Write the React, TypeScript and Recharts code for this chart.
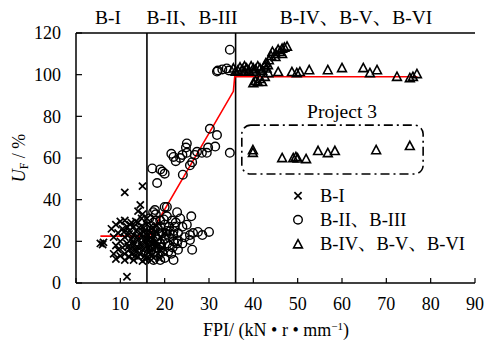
import React from "react";
import {
  ScatterChart,
  Scatter,
  XAxis,
  YAxis,
  ReferenceLine,
  ReferenceArea,
} from "recharts";

const FONT = "'Times New Roman', 'Liberation Serif', 'Noto Serif CJK SC', 'Noto Sans CJK SC', serif";

const xTicks = [0, 10, 20, 30, 40, 50, 60, 70, 80, 90];
const yTicks = [0, 20, 40, 60, 80, 100, 120];
const regionLabels = ["B-I", "B-II、B-III", "B-IV、B-V、B-VI"];
const seriesNames = ["B-I", "B-II、B-III", "B-IV、B-V、B-VI"];
const boundaries = [16, 36];

// B-I (crosses)
const groupI: [number, number][] = [
  [5.5, 19], [6, 18.5], [6.2, 19.5],
  [11, 43.5], [15, 46.5], [14.5, 37.5], [14, 34.5], [15, 33], [11.5, 3],
  [8, 26], [8.5, 22], [8.5, 14], [9, 28], [9, 18], [9, 11.5], [9.5, 24], [9.5, 16],
  [10, 29.5], [10, 20], [10, 13], [10.5, 26], [10.5, 17], [11, 30], [11, 22], [11, 14],
  [11, 11], [11.5, 27], [11.5, 19], [12, 25], [12, 16], [12, 12.5], [12.5, 29], [12.5, 21],
  [12.5, 14], [13, 27], [13, 23], [13, 18], [13, 11], [13.5, 25], [13.5, 15], [14, 29],
  [14, 21], [14, 17], [14, 12.5], [14.5, 24], [14.5, 19], [14.5, 14], [15, 27], [15, 22],
  [15, 16], [15, 10.5], [15.5, 25], [15.5, 20], [15.5, 13], [16, 28], [16, 23], [16, 18],
  [16, 12], [16.5, 21], [16.5, 15], [17, 26], [17, 19], [17, 13], [17.5, 23], [17.5, 16],
  [18, 20], [18, 25], [18.5, 14], [18.5, 18], [19, 22], [19.5, 17], [20, 24],
  [12, 23.5], [12.8, 19.5], [13.2, 16.5], [13.8, 22.5], [14.2, 26.5], [14.8, 17.5],
  [15.2, 24.5], [15.8, 21.5], [16.2, 16.5], [16.8, 24], [17.2, 21], [17.8, 18],
  [13.5, 29.5], [14.8, 31], [16, 31], [11.8, 17.5], [12.2, 28], [10.8, 24.5],
  [13.3, 13], [15.6, 11.5], [17, 11], [18.8, 12], [19.2, 15.5], [18.2, 27.5],
];

// B-II, B-III (circles)
const groupII: [number, number][] = [
  [34.7, 112], [32, 102], [33, 102.5], [34, 103], [34.5, 102], [31.8, 101.5],
  [17.2, 55], [19, 54.5], [19.5, 53.5], [20, 52.5], [18.3, 48], [21.5, 62], [22, 60.5],
  [22.5, 58.5], [23.5, 60], [24, 61.5], [24.1, 52], [24.8, 65], [25, 67], [25, 62.5],
  [25.7, 56.5], [26.2, 58], [26.8, 61.5], [27.3, 63], [28.4, 62.5], [29.5, 62.5],
  [29.8, 65], [30.2, 74], [31.4, 65.5], [31.8, 71], [34.7, 62.5],
  [17.4, 34], [17.8, 35], [20, 36.5], [20.5, 36.5], [22.8, 34], [21.7, 30], [26.4, 24],
  [27.5, 24.5], [25.7, 23], [26.2, 16], [21.9, 23], [23, 20.5], [20.8, 15], [25.7, 20.6],
  [16, 27], [16.5, 31], [16.5, 20], [17, 24], [17, 16], [17.5, 29], [17.5, 11], [18, 22],
  [18, 33], [18.5, 26], [18.5, 13], [19, 30], [19, 19], [19.5, 24], [19.5, 15], [20, 28],
  [20, 21], [20, 12], [20.5, 32], [20.5, 25], [21, 18], [21, 27], [21.5, 14], [22, 25],
  [22, 20], [22.5, 29], [23, 24], [23, 16], [24, 27], [24, 19], [24.5, 22], [25, 28],
  [23.5, 31], [26, 32], [17, 20], [18, 17], [19, 27], [21, 22], [22, 11], [22.3, 27],
  [22.8, 19], [28.5, 23], [30, 24.5],
  [16.8, 18], [17.6, 26], [18.4, 21], [19.2, 17], [19.8, 30.5], [20.6, 19], [21.2, 25],
  [16.4, 14], [18, 30], [21.8, 17], [19, 11], [20.4, 23.5],
];

// B-IV, B-V, B-VI (triangles)
const groupIV: [number, number][] = [
  [35.5, 103], [36.5, 102], [37, 103.5], [37.5, 102.5], [38, 104], [38.5, 103], [39, 102],
  [39.5, 104], [40, 103], [40.5, 102.5], [41, 104], [41.5, 103], [42, 102], [42.5, 104],
  [43, 103], [38, 101.5], [40, 101.5], [36, 101.5], [43.3, 104.6],
  [42.8, 105.5], [43.5, 107], [44, 109], [44.3, 111], [45, 110], [45.6, 112], [46, 111],
  [46.5, 112.5], [47, 113], [47.6, 113.5], [45, 108.5], [46.5, 110],
  [40, 96], [40.5, 97], [41, 96.5], [41.5, 98], [42, 96.5], [42.6, 99], [43.4, 100.8],
  [45.6, 101.3], [48.7, 101.3], [49.8, 100.8], [50.5, 101.3], [52.6, 102.2], [56.8, 102.2],
  [60, 103.2], [64.8, 103.2], [66.3, 100.8], [67.9, 102.2], [72.4, 99], [75.3, 98.4],
  [76, 99], [76.9, 100.3],
  // Project 3
  [39.9, 63.8], [39.9, 62.5], [46.5, 60], [49, 60], [49.6, 60.5], [50, 59.8], [51.9, 59.5],
  [54.6, 63.4], [56.8, 62.4], [58.4, 63.4], [67.7, 63.8], [75.3, 65.8],
];

// fitted red line
const fitX = [5.5, 16.5, 35.5, 35.8, 77];
const fitY = [22.5, 22.5, 92, 99, 99];

// Project 3 box
const boxX = [37.4, 78.3];
const boxY = [52.3, 75.8];

const toPts = (a: [number, number][]) => a.map(([x, y]) => ({ x, y }));
const fitData = fitX.map((x, i) => ({ x, y: fitY[i] }));

const CrossShape = (p: any) => {
  const { cx, cy } = p;
  const s = 3.6;
  return (
    <path
      d={`M${cx - s},${cy - s}L${cx + s},${cy + s}M${cx - s},${cy + s}L${cx + s},${cy - s}`}
      stroke="#000"
      strokeWidth={1.7}
      fill="none"
    />
  );
};
const CircleShape = (p: any) => (
  <circle cx={p.cx} cy={p.cy} r={4.3} fill="none" stroke="#000" strokeWidth={1.4} />
);
const TriShape = (p: any) => {
  const { cx, cy } = p;
  return (
    <path
      d={`M${cx},${cy - 4.6}L${cx + 4.4},${cy + 3.6}L${cx - 4.4},${cy + 3.6}Z`}
      fill="none"
      stroke="#000"
      strokeWidth={1.6}
    />
  );
};
const NoShape = () => <g />;

const BoxShape = (p: any) => {
  const { x, y, width, height } = p;
  return (
    <rect
      x={x}
      y={y}
      width={width}
      height={height}
      rx={9}
      ry={9}
      fill="none"
      stroke="#000"
      strokeWidth={1.6}
      strokeDasharray="9 4 2 4"
    />
  );
};

const abs = (left: number, top: number, extra: React.CSSProperties = {}): React.CSSProperties => ({
  position: "absolute",
  left,
  top,
  transform: "translate(-50%, -50%)",
  whiteSpace: "nowrap",
  fontFamily: FONT,
  color: "#000",
  lineHeight: 1,
  ...extra,
});

const legendIcons = [
  (
    <svg width={12} height={12}>
      <CrossShape cx={6} cy={6} />
    </svg>
  ),
  (
    <svg width={12} height={12}>
      <CircleShape cx={6} cy={6} />
    </svg>
  ),
  (
    <svg width={12} height={12}>
      <TriShape cx={6} cy={6.5} />
    </svg>
  ),
];

export default function App() {
  return (
    <div style={{ position: "absolute", left: 0, top: 0, width: 486, height: 347, background: "#fff" }}>
      <ScatterChart
        width={486}
        height={347}
        margin={{ top: 33, right: 11, bottom: 0, left: 0 }}
      >
        <XAxis
          type="number"
          dataKey="x"
          domain={[0, 90]}
          ticks={xTicks}
          interval={0}
          height={64}
          tickSize={-5}
          tickMargin={19}
          axisLine={{ stroke: "#000", strokeWidth: 1.5 }}
          tickLine={{ stroke: "#000", strokeWidth: 1.2 }}
          tick={{ fill: "#000", fontSize: 18, fontFamily: FONT }}
          allowDataOverflow
        />
        <YAxis
          type="number"
          dataKey="y"
          domain={[0, 120]}
          ticks={yTicks}
          interval={0}
          width={76}
          tickSize={-6}
          tickMargin={21}
          axisLine={{ stroke: "#000", strokeWidth: 1.5 }}
          tickLine={{ stroke: "#000", strokeWidth: 1.2 }}
          tick={{ fill: "#000", fontSize: 18, fontFamily: FONT }}
          allowDataOverflow
        />
        <ReferenceLine y={120} stroke="#000" strokeWidth={1.5} />
        {boundaries.map((b) => (
          <ReferenceLine key={b} x={b} stroke="#000" strokeWidth={1.6} />
        ))}
        <ReferenceArea
          x1={boxX[0]}
          x2={boxX[1]}
          y1={boxY[0]}
          y2={boxY[1]}
          shape={BoxShape}
        />
        <Scatter
          data={fitData}
          line={{ stroke: "#ff0000", strokeWidth: 1.6 }}
          shape={NoShape}
          isAnimationActive={false}
        />
        <Scatter data={toPts(groupI)} shape={CrossShape} isAnimationActive={false} />
        <Scatter data={toPts(groupII)} shape={CircleShape} isAnimationActive={false} />
        <Scatter data={toPts(groupIV)} shape={TriShape} isAnimationActive={false} />
      </ScatterChart>

      {/* region labels */}
      <div style={abs(108, 18, { fontSize: 19.5 })}>{regionLabels[0]}</div>
      <div style={abs(192, 18, { fontSize: 19.5 })}>{regionLabels[1]}</div>
      <div style={abs(356, 18, { fontSize: 19.5 })}>{regionLabels[2]}</div>

      {/* Project 3 */}
      <div style={abs(342, 112, { fontSize: 19.5 })}>Project 3</div>

      {/* legend */}
      {seriesNames.map((n, i) => (
        <div
          key={n}
          style={{
            position: "absolute",
            left: 292,
            top: 196 + i * 24,
            transform: "translateY(-50%)",
            display: "flex",
            alignItems: "center",
            fontFamily: FONT,
            fontSize: 18.5,
            lineHeight: 1,
            whiteSpace: "nowrap",
          }}
        >
          <span style={{ width: 28, display: "inline-flex" }}>{legendIcons[i]}</span>
          <span>{n}</span>
        </div>
      ))}

      {/* axis titles */}
      <div style={abs(276, 330, { fontSize: 18 })}>
        FPI/ (kN • r • mm<sup style={{ fontSize: 11, verticalAlign: "6px" }}>−1</sup>)
      </div>
      <div style={abs(20, 158, { fontSize: 18, transform: "translate(-50%, -50%) rotate(-90deg)" })}>
        <i>U</i>
        <sub style={{ fontSize: 12, verticalAlign: "-3px" }}>F</sub> / %
      </div>
    </div>
  );
}
